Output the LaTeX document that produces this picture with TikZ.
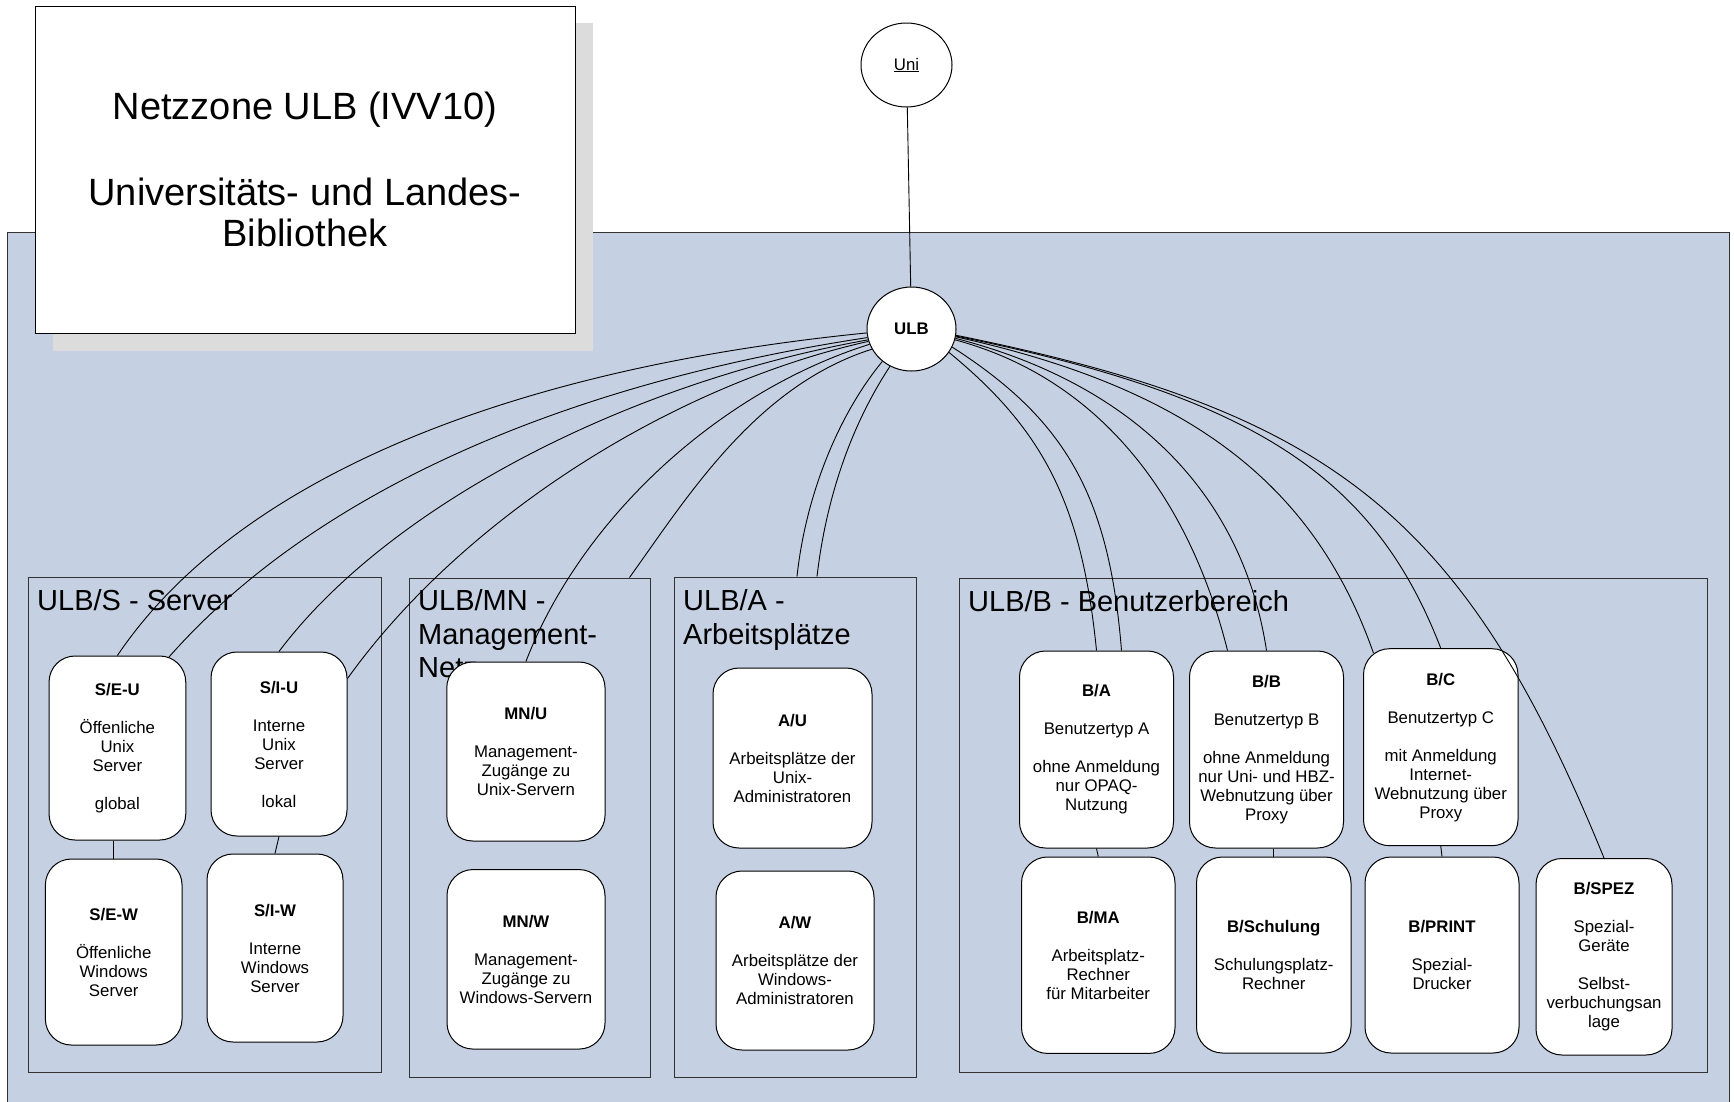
\documentclass[tikz,border=0pt]{standalone}
\usepackage{fontspec}
\setmainfont{Liberation Sans}
\usetikzlibrary{shapes.geometric}

\definecolor{zonebg}{RGB}{197,208,226}
\definecolor{shadowgray}{RGB}{220,220,220}
\definecolor{framegray}{RGB}{50,50,50}

\tikzset{
  unit/.style={rectangle, draw=black, line width=1pt, fill=white,
    rounded corners=26pt, inner sep=0pt, align=center,
    font=\fontsize{16.8}{19}\selectfont},
  group/.style={rectangle, draw=framegray, line width=1pt, inner sep=0pt},
  grouplabel/.style={anchor=base west, inner sep=0pt,
    font=\fontsize{29}{33.5}\selectfont},
  hub/.style={ellipse, draw=black, line width=1pt, fill=white, inner sep=0pt,
    font=\fontsize{16.8}{19}\selectfont},
  titleline/.style={anchor=base, inner sep=0pt, font=\fontsize{38}{41}\selectfont},
  link/.style={draw=black, line width=0.9pt},
}

\begin{document}
\begin{tikzpicture}[x=1pt,y=-1pt]
\useasboundingbox (0,0) rectangle (1734,1101);
\clip (0,0) rectangle (1734,1101);

% network zone background
\draw[framegray, fill=zonebg, line width=1pt] (7.5,232.5) rectangle (1729.5,1130);

% title card with drop shadow
\fill[shadowgray] (52.6,23.3) rectangle (593,350.7);
\node[draw=black, line width=1pt, fill=white, minimum width=540pt, minimum height=326.6pt, inner sep=0pt]
  (titlebox) at (305.2,170) {};
\node[titleline] (title1) at (305,119.4) {Netzzone ULB (IVV10)};
\node[titleline] (title2) at (305,205.7) {Universitäts- und Landes-};
\node[titleline] (title3) at (305,246.6) {Bibliothek};

% sub-zones
\node[group, minimum width=352.5pt, minimum height=495pt] (sgrp)  at (204.75,824.5) {};
\node[group, minimum width=241pt,   minimum height=499pt] (mngrp) at (529.5,827.5) {};
\node[group, minimum width=242pt,   minimum height=500pt] (agrp)  at (795,827) {};
\node[group, minimum width=748pt,   minimum height=494pt] (bgrp)  at (1333,825) {};

\node[grouplabel] (slabel) at (37,610.7) {ULB/S - Server};
\node[grouplabel] (mnlabel1) at (418,610.5) {ULB/MN -};
\node[grouplabel] (mnlabel2) at (418,644.5) {Management-};
\node[grouplabel] (mnlabel3) at (418,677.5) {Netz};
\node[grouplabel] (alabel1) at (683,610.5) {ULB/A -};
\node[grouplabel] (alabel2) at (683,644.5) {Arbeitsplätze};
\node[grouplabel] (blabel) at (968,611) {ULB/B - Benutzerbereich};

% server zone
\node[unit, minimum width=136.7pt, minimum height=184pt] (seu) at (117.4,748)
  {\textbf{S/E-U}\\[19pt]Öffenliche\\Unix\\Server\\[19pt]global};
\node[unit, minimum width=136pt, minimum height=184pt] (siu) at (279,744)
  {\textbf{S/I-U}\\[19pt]Interne\\Unix\\Server\\[19pt]lokal};
\node[unit, minimum width=136.7pt, minimum height=186pt] (sew) at (113.7,952)
  {\textbf{S/E-W}\\[19pt]Öffenliche\\Windows\\Server};
\node[unit, minimum width=136pt, minimum height=188pt] (siw) at (275,948)
  {\textbf{S/I-W}\\[19pt]Interne\\Windows\\Server};

% management zone
\node[unit, minimum width=158.3pt, minimum height=179pt] (mnu) at (525.9,751.5)
  {\textbf{MN/U}\\[19pt]Management-\\Zugänge zu\\Unix-Servern};
\node[unit, minimum width=158pt, minimum height=179.5pt] (mnw) at (526,959.3)
  {\textbf{MN/W}\\[19pt]Management-\\Zugänge zu\\Windows-Servern};

% admin workplaces
\node[unit, minimum width=159pt, minimum height=180pt] (au) at (792.5,758)
  {\textbf{A/U}\\[19pt]Arbeitsplätze der\\Unix-\\Administratoren};
\node[unit, minimum width=158pt, minimum height=179pt] (aw) at (795,960.5)
  {\textbf{A/W}\\[19pt]Arbeitsplätze der\\Windows-\\Administratoren};

% user area
\node[unit, minimum width=154pt, minimum height=197pt] (ba) at (1096.5,749.5)
  {\textbf{B/A}\\[19pt]Benutzertyp A\\[19pt]ohne Anmeldung\\nur OPAQ-\\Nutzung};
\node[unit, minimum width=154pt, minimum height=197pt] (bb) at (1266.5,749.5)
  {\textbf{B/B}\\[19pt]Benutzertyp B\\[19pt]ohne Anmeldung\\nur Uni- und HBZ-\\Webnutzung über\\Proxy};
\node[unit, minimum width=154.5pt, minimum height=197pt] (bc) at (1440.75,747.2)
  {\textbf{B/C}\\[19pt]Benutzertyp C\\[19pt]mit Anmeldung\\Internet-\\Webnutzung über\\Proxy};
\node[unit, minimum width=153.5pt, minimum height=196.4pt] (bma) at (1098.25,955.2)
  {\textbf{B/MA}\\[19pt]Arbeitsplatz-\\Rechner\\für Mitarbeiter};
\node[unit, minimum width=154.5pt, minimum height=196pt] (bsch) at (1273.75,955)
  {\textbf{B/Schulung}\\[19pt]Schulungsplatz-\\Rechner};
\node[unit, minimum width=154pt, minimum height=196pt] (bprint) at (1442,955)
  {\textbf{B/PRINT}\\[19pt]Spezial-\\Drucker};
\node[unit, minimum width=136pt, minimum height=196.5pt] (bspez) at (1604,956.75)
  {\textbf{B/SPEZ}\\[19pt]Spezial-\\Geräte\\[19pt]Selbst-\\verbuchungsan\\lage};

% routers
\node[hub, minimum width=91pt, minimum height=84pt] (uni) at (906.5,65) {\underline{Uni}};
\node[hub, minimum width=89pt, minimum height=84pt] (ulb) at (911.5,329) {\textbf{ULB}};

\draw[link] (uni) -- (ulb);

% links to the left-hand zones
\draw[link] (ulb.185) .. controls (496,370) and (233,484) .. (seu.north);
\draw[link] (ulb.191) .. controls (555,385) and (311,496) .. ([xshift=51.6pt,yshift=-1.5pt]seu.north);
\draw[link] (ulb.194) .. controls (621,384) and (386,509) .. (siu.north);
\draw[link] (ulb.196) .. controls (669,386) and (461,520) .. ([yshift=-27pt]siu.north east);
\draw[link] (ulb.200) .. controls (718,392) and (581,519) .. (mnu.north);
\draw[link] (ulb.207) .. controls (756,386) and (688,496) .. ([xshift=-21pt]mngrp.north east);
\draw[link] (ulb.228) .. controls (837.6,415.6) and (805.5,496.7) .. ([xshift=2pt]agrp.north);
\draw[link] (ulb.240) .. controls (851.5,424.8) and (826.3,496.7) .. ([xshift=22pt]agrp.north);

% links to the user area
\draw[link] (ulb.-32) .. controls (1045,431) and (1082,506) .. (ba.north);
\draw[link] (ulb.-24) .. controls (1066.6,420.3) and (1109.1,496.5) .. ([xshift=25pt]ba.north);
\draw[link] (ulb.-14) .. controls (1090.3,376) and (1185.9,484.9) .. ([xshift=-39pt]bb.north);
\draw[link] (ulb.-12) .. controls (1133.5,384.2) and (1242.5,493.6) .. (bb.north);
\draw[link] (ulb.-10) .. controls (1188.2,387.9) and (1313.8,483.1) .. ([xshift=-67.25pt,yshift=-5pt]bc.north);
\draw[link] (ulb.-9) .. controls (1252.6,396.6) and (1373.9,474.9) .. (bc.north);
\draw[link] (ulb.-8) .. controls (1334.4,411.9) and (1464.5,516.4) .. (bspez.north);

% stacked pairs
\draw[link] (seu.south -| sew.north) -- (sew.north);
\draw[link] (siu.south) -- (siw.north);
\draw[link] (ba.south) -- (bma.north);
\draw[link] (bb.south -| bsch.north) -- (bsch.north);
\draw[link] (bc.south) -- (bprint.north);
\end{tikzpicture}
\end{document}
